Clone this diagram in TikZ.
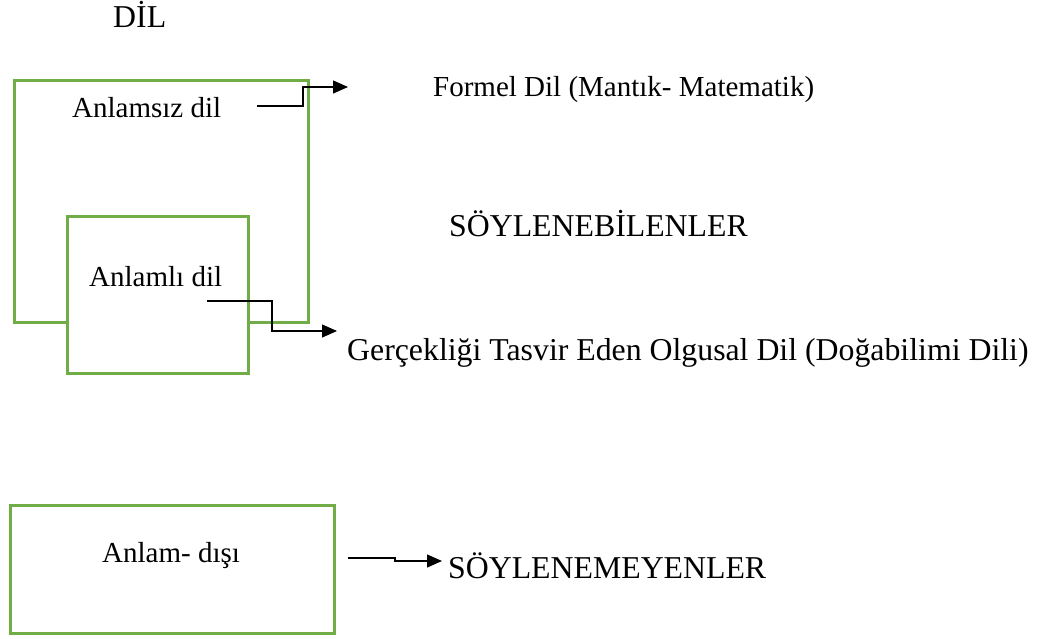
\documentclass[tikz,border=0pt]{standalone}
\usepackage{fontspec}
\setmainfont{Liberation Serif}
\usetikzlibrary{arrows.meta,positioning}
\definecolor{kutuyesil}{RGB}{112,173,71}

\begin{document}
\begin{tikzpicture}[x=1pt,y=-1pt,
        kutu/.style={draw=kutuyesil,line width=2.6pt,fill=white,inner sep=0pt,anchor=north west},
        yazi/.style={anchor=base west,inner sep=0pt,font=\fontsize{29}{35}\selectfont},
        buyukyazi/.style={yazi,font=\fontsize{31.8}{38}\selectfont},
        ok/.style={line width=1.2pt,-{Triangle[length=15pt,width=13pt]}}]
    \useasboundingbox (0,0) rectangle (1038,639);
    % kutular
    \node[kutu,minimum width=294pt,minimum height=242pt] (disdil) at (13,79) {};
    \node[kutu,minimum width=181pt,minimum height=157pt] (icdil) at (66,215) {};
    \node[kutu,minimum width=324pt,minimum height=128pt] (anlamdisi) at (9,504) {};
    % yazilar
    \node[buyukyazi] (dil) at (113,28) {DİL};
    \node[yazi] (anlamsiz) at (72,118) {Anlamsız dil};
    \node[yazi] (anlamli) at (89,286) {Anlamlı dil};
    \node[yazi] (disi) at (102,562) {Anlam- dışı};
    \node[yazi] (formel) at (433,97) {Formel Dil (Mantık- Matematik)};
    \node[buyukyazi] (soylenebilen) at (449,236) {SÖYLENEBİLENLER};
    \node[buyukyazi] (olgusal) at (347,360) {Gerçekliği Tasvir Eden Olgusal Dil (Doğabilimi Dili)};
    \node[buyukyazi] (soylenemeyen) at (448,578) {SÖYLENEMEYENLER};
    % oklar
    \coordinate (a1) at (257,106);
    \coordinate (a1t) at (348,87);
    \coordinate (a2) at (207,301);
    \coordinate (a2t) at (337,331);
    \coordinate (a3) at (348,558);
    \coordinate (a3t) at (442,561);
    \draw[ok] (a1) -- ++(46,0) |- (a1t);
    \draw[ok] (a2) -- ++(65,0) |- (a2t);
    \draw[ok] (a3) -- ++(47,0) |- (a3t);
\end{tikzpicture}
\end{document}
